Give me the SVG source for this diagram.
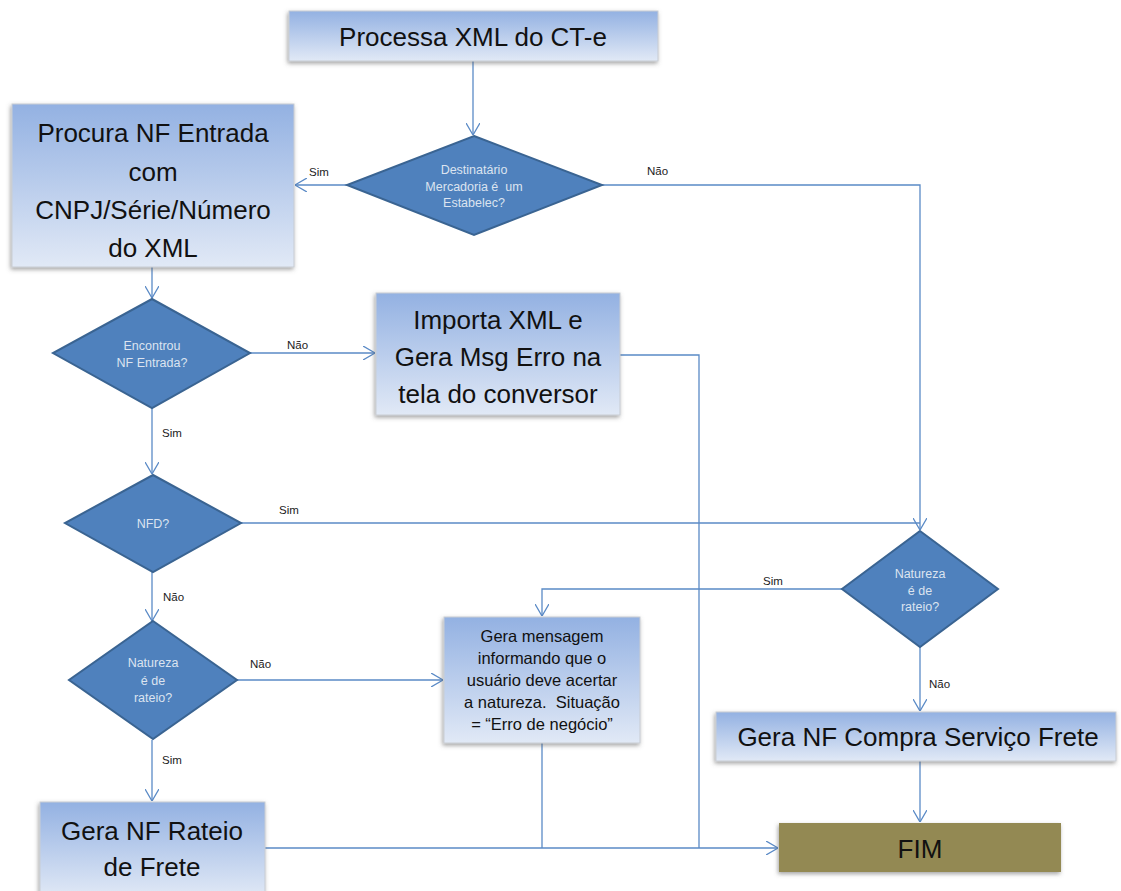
<svg xmlns="http://www.w3.org/2000/svg" width="1121" height="891" viewBox="0 0 1121 891">
<style>
text{white-space:pre}
.box{fill:url(#boxGrad);stroke:#c9cdd3;stroke-width:1}
.dia{fill:#4f81bd;stroke:#3a6492;stroke-width:2}
.big{font-family:"Liberation Sans",Arial,sans-serif;font-size:26px;fill:#111;text-anchor:middle}
.mid{font-family:"Liberation Sans",Arial,sans-serif;font-size:16.5px;fill:#111;text-anchor:middle}
.dt{font-family:"Liberation Sans",Arial,sans-serif;font-size:12.5px;fill:#dce4f0;text-anchor:middle}
.lbl{font-family:"Liberation Sans",Arial,sans-serif;font-size:11.5px;fill:#222}
.con{fill:none;stroke:#5a8ac6;stroke-width:1.3}
.arr{marker-end:url(#ah)}
</style>
<defs>
<linearGradient id="boxGrad" x1="0" y1="0" x2="0" y2="1">
<stop offset="0" stop-color="#93b1e2"/>
<stop offset="1" stop-color="#e1e9f6"/>
</linearGradient>
<filter id="sh" x="-10%" y="-10%" width="120%" height="130%">
<feDropShadow dx="-1" dy="2" stdDeviation="2" flood-color="#555" flood-opacity="0.55"/>
</filter>
<marker id="ah" viewBox="0 0 12 14" refX="12" refY="7" markerWidth="12" markerHeight="14" markerUnits="userSpaceOnUse" orient="auto">
<path d="M0,0 L12,7 L0,14" fill="none" stroke="#5a8ac6" stroke-width="1.3"/>
</marker>
</defs>
<rect width="1121" height="891" fill="#ffffff"/>

<g id="connectors">
<path class="con arr" d="M473,61 V135"/>
<path class="con arr" d="M347,185 H295"/>
<path class="con arr" d="M602,185 H920 V530"/>
<path class="con arr" d="M152,267 V298"/>
<path class="con arr" d="M250,353 H375"/>
<path class="con arr" d="M152,408 V474"/>
<path class="con" d="M240,523 H920"/>
<path class="con arr" d="M152,572 V621"/>
<path class="con arr" d="M237,680 H443"/>
<path class="con arr" d="M152,740 V801"/>
<path class="con arr" d="M842,589 H542 V616"/>
<path class="con arr" d="M920,647 V711"/>
<path class="con arr" d="M920,761 V822"/>
<path class="con arr" d="M265,848 H778"/>
<path class="con" d="M620,355 H699 V848"/>
<path class="con" d="M542,743 V848"/>
<text class="lbl" x="309" y="176">Sim</text>
<text class="lbl" x="647" y="175">Não</text>
<text class="lbl" x="287" y="349">Não</text>
<text class="lbl" x="162" y="437">Sim</text>
<text class="lbl" x="279" y="514">Sim</text>
<text class="lbl" x="163" y="601">Não</text>
<text class="lbl" x="250" y="668">Não</text>
<text class="lbl" x="162" y="764">Sim</text>
<text class="lbl" x="763" y="585">Sim</text>
<text class="lbl" x="929" y="688">Não</text>
</g>

<g id="n-processa">
<rect class="box" filter="url(#sh)" x="289" y="11" width="369" height="50"/>
<text class="big" x="473" y="46">Processa XML do CT-e</text>
</g>

<g id="n-destinatario">
<polygon class="dia" points="474,136 602,185 474,235 347,185"/>
<text class="dt" x="474" y="174">Destinatário</text>
<text class="dt" x="474" y="191">Mercadoria é  um</text>
<text class="dt" x="474" y="207">Estabelec?</text>
</g>

<g id="n-procura">
<rect class="box" filter="url(#sh)" x="12" y="104" width="282" height="163"/>
<text class="big" x="153" y="142">Procura NF Entrada</text>
<text class="big" x="153" y="181">com</text>
<text class="big" x="153" y="219">CNPJ/Série/Número</text>
<text class="big" x="153" y="257">do XML</text>
</g>

<g id="n-encontrou">
<polygon class="dia" points="152,299 250,353 152,408 53,353"/>
<text class="dt" x="152" y="350">Encontrou</text>
<text class="dt" x="152" y="367">NF Entrada?</text>
</g>

<g id="n-importa">
<rect class="box" filter="url(#sh)" x="376" y="293" width="244" height="122"/>
<text class="big" x="498" y="329">Importa XML e</text>
<text class="big" x="498" y="366">Gera Msg Erro na</text>
<text class="big" x="498" y="403">tela do conversor</text>
</g>

<g id="n-nfd">
<polygon class="dia" points="153,475 241,523 153,572 65,523"/>
<text class="dt" x="153" y="528">NFD?</text>
</g>

<g id="n-natureza1">
<polygon class="dia" points="153,621 237,680 153,739 69,680"/>
<text class="dt" x="153" y="667">Natureza</text>
<text class="dt" x="153" y="685">é de</text>
<text class="dt" x="153" y="702">rateio?</text>
</g>

<g id="n-gera-msg">
<rect class="box" filter="url(#sh)" x="444" y="617" width="196" height="126"/>
<text class="mid" x="542" y="642">Gera mensagem</text>
<text class="mid" x="542" y="664">informando que o</text>
<text class="mid" x="542" y="686">usuário deve acertar</text>
<text class="mid" x="542" y="708">a natureza.  Situação</text>
<text class="mid" x="542" y="730">= “Erro de negócio”</text>
</g>

<g id="n-natureza2">
<polygon class="dia" points="920,531 998,589 920,647 842,589"/>
<text class="dt" x="920" y="578">Natureza</text>
<text class="dt" x="920" y="595">é de</text>
<text class="dt" x="920" y="611">rateio?</text>
</g>

<g id="n-rateio">
<rect class="box" filter="url(#sh)" x="40" y="802" width="225" height="95"/>
<text class="big" x="152" y="840">Gera NF Rateio</text>
<text class="big" x="152" y="876">de Frete</text>
</g>

<g id="n-compra">
<rect class="box" filter="url(#sh)" x="716" y="712" width="400" height="49"/>
<text class="big" x="918" y="746">Gera NF Compra Serviço Frete</text>
</g>

<g id="n-fim">
<rect x="779" y="823" width="282" height="49" fill="#938953" filter="url(#sh)"/>
<text class="big" x="920" y="858">FIM</text>
</g>
</svg>
